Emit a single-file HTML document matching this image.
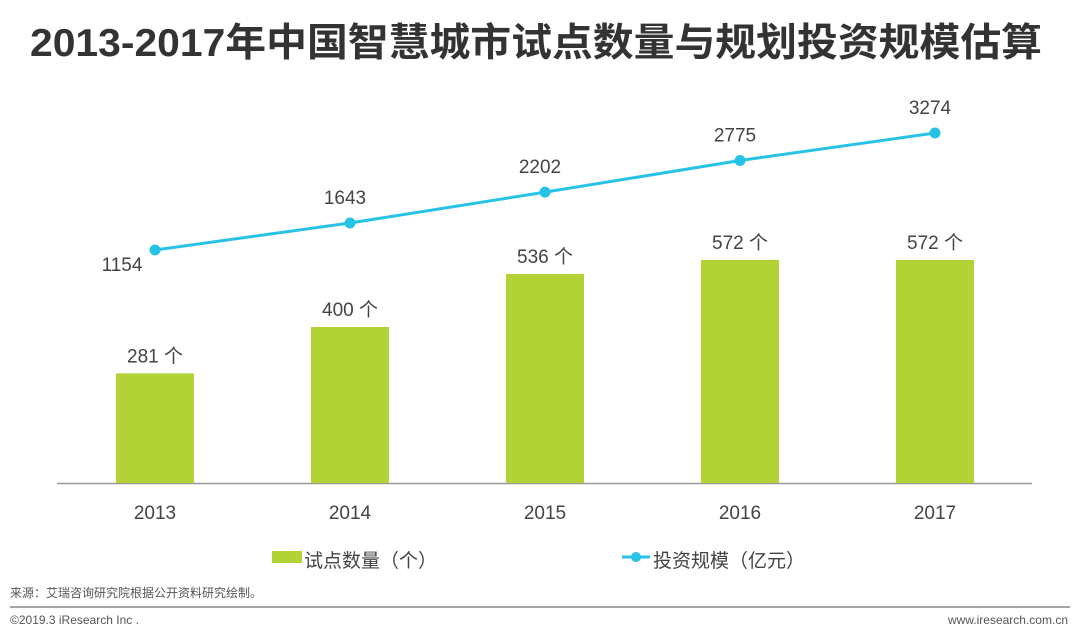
<!DOCTYPE html>
<html><head><meta charset="utf-8"><style>
body{margin:0;width:1080px;height:635px;background:#fff;overflow:hidden;font-family:"Liberation Sans","Noto Sans CJK SC",sans-serif;}
svg text{font-family:"Liberation Sans","Noto Sans CJK SC",sans-serif;}
</style></head><body>
<svg id="c" width="1080" height="635">
<text x="30" y="56" font-size="39" font-weight="bold" fill="#333" textLength="1012" lengthAdjust="spacingAndGlyphs">2013-2017年中国智慧城市试点数量与规划投资规模估算</text>
<line x1="57" y1="483.5" x2="1032" y2="483.5" stroke="#999" stroke-width="1.5"/>
<g id="bars"></g><g id="line"></g>
<g>
<rect x="272" y="551" width="30" height="12" fill="#b2d235"/>
<text x="304" y="567" font-size="19" fill="#444">试点数量（个）</text>
<line x1="622" y1="557" x2="650" y2="557" stroke="#27c3e7" stroke-width="3"/>
<circle cx="636" cy="557" r="5" fill="#27c3e7"/>
<text x="653" y="567" font-size="19" fill="#444">投资规模（亿元）</text>
</g>
<text x="10" y="597" font-size="12" fill="#555">来源：艾瑞咨询研究院根据公开资料研究绘制。</text>
<line x1="10" y1="607" x2="1070" y2="607" stroke="#888" stroke-width="1.5"/>
<text x="10" y="624" font-size="12" fill="#555">©2019.3 iResearch Inc .</text>
<text x="1068" y="624" text-anchor="end" font-size="12" fill="#555">www.iresearch.com.cn</text>
</svg>
<script>
const years=["2013","2014","2015","2016","2017"];
const pilots=[281,400,536,572,572];
const invest=[1154,1643,2202,2775,3274];
const NS="http://www.w3.org/2000/svg";
const xC=i=>155+i*195;
const yBar=v=>483-v*0.39;
const yLine=v=>250-(v-1154)*0.0552;
function mk(t,a,p){const e=document.createElementNS(NS,t);for(const k in a)e.setAttribute(k,a[k]);p.appendChild(e);return e;}
const bars=document.getElementById('bars'),line=document.getElementById('line');
years.forEach((y,i)=>{
 const b=mk('rect',{x:xC(i)-39,y:yBar(pilots[i]),width:78,height:483-yBar(pilots[i]),fill:'#b2d235'},bars);
 
 
 const l=mk('text',{x:xC(i),y:yBar(pilots[i])-11,'text-anchor':'middle','font-size':19,fill:'#444'},bars);
 l.textContent=pilots[i]+' 个';
 
 
 const t=mk('text',{x:xC(i),y:519,'text-anchor':'middle','font-size':19,fill:'#444'},bars);
 t.textContent=y;
 
 
});
const pl=mk('polyline',{points:invest.map((v,i)=>xC(i)+','+yLine(v)).join(' '),fill:'none',stroke:'#27c3e7','stroke-width':3},line);


invest.forEach((v,i)=>{
 const c=mk('circle',{cx:xC(i),cy:yLine(v),r:5.5,fill:'#27c3e7'},line);
 
 
 const first=i===0;
 const t=mk('text',{x:first?xC(i)-33:xC(i)-5,y:first?yLine(v)+21:yLine(v)-19,'text-anchor':'middle','font-size':19,fill:'#444'},line);
 t.textContent=v;
 
 
});
</script>
</body></html>
